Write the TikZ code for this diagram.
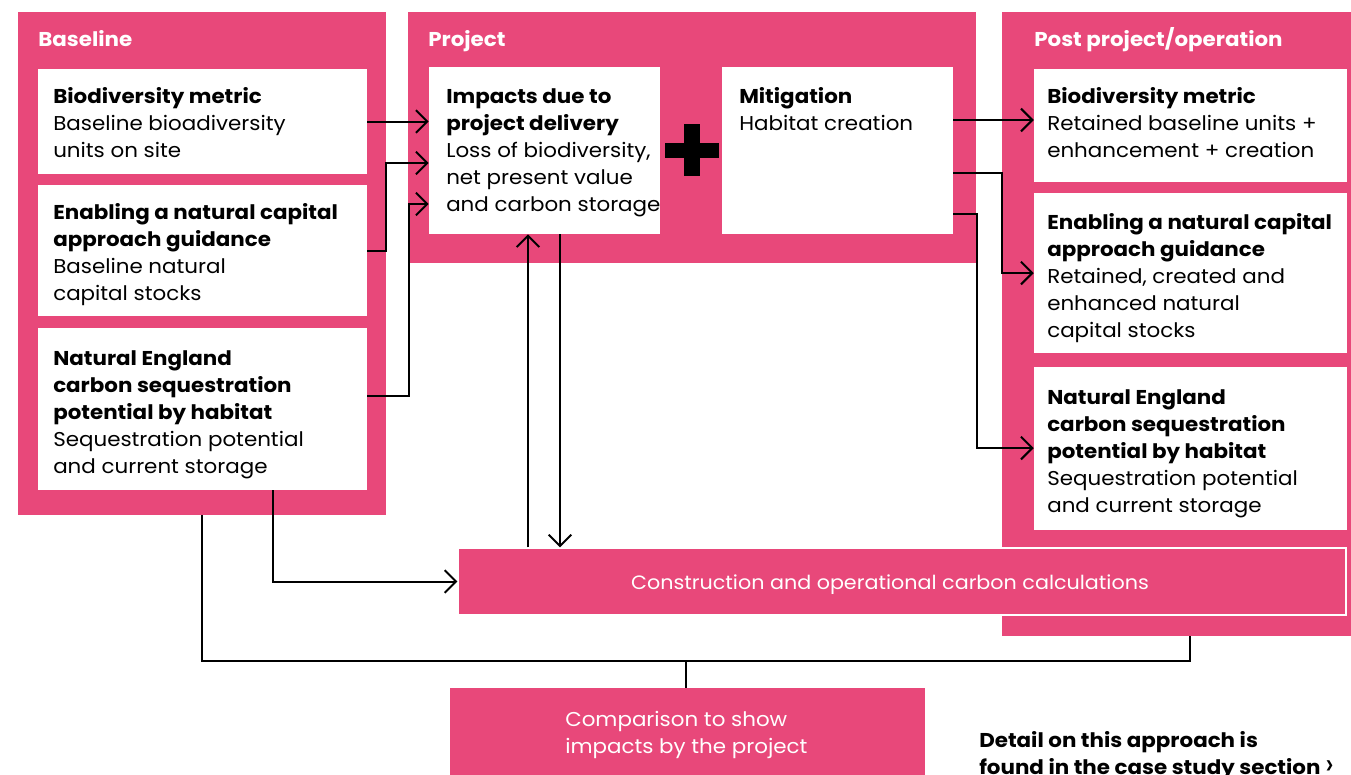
\documentclass[tikz,border=0pt]{standalone}
\usepackage{fontspec}
\setmainfont{Poppins}[FakeStretch=1.07]
\usetikzlibrary{arrows.meta,fit}
\definecolor{pinkc}{HTML}{E8487A}
\begin{document}
\begin{tikzpicture}[x=0.75pt,y=-0.75pt,
  frame/.style={fill=pinkc, inner sep=0pt, draw=none},
  card/.style={fill=white, inner sep=0pt, draw=none},
  txt/.style={anchor=base west, align=left, inner sep=0pt, font=\fontsize{15}{20.25}\selectfont, text=black},
  head/.style={anchor=base west, inner sep=0pt, font=\fontsize{15}{20.25}\selectfont\bfseries, text=white},
  wtxt/.style={align=left, inner sep=0pt, font=\fontsize{15}{20.25}\selectfont, text=white},
  conn/.style={draw=black, line width=1.5pt},
  arr/.style={conn, -{Straight Barb[length=8.5pt,width=17pt,line width=1.5pt]}},
]
\useasboundingbox (0,0) rectangle (1351,774);
% frames
\node[frame, fit={(18,12)(386,515)}] (base) {};
\node[frame, fit={(408,12)(976,263)}] (proj) {};
\node[frame, fit={(1002,12)(1351,636)}] (post) {};
\node[head] (hbase) at (38,46.5) {Baseline};
\node[head] (hproj) at (428,46.5) {Project};
\node[head] (hpost) at (1034,46.5) {Post project/operation};
% baseline cards
\node[card, fit={(38,69)(367,174)}] (b1) {};
\node[card, fit={(38,185)(367,316)}] (b2) {};
\node[card, fit={(38,328)(367,490)}] (b3) {};
\node[txt] (tb1) at (53,157) {\textbf{Biodiversity metric}\\Baseline bioadiversity\\units on site};
\node[txt] (tb2) at (53,300) {\textbf{Enabling a natural capital}\\\textbf{approach guidance}\\Baseline natural\\capital stocks};
\node[txt] (tb3) at (53,473) {\textbf{Natural England}\\\textbf{carbon sequestration}\\\textbf{potential by habitat}\\Sequestration potential\\and current storage};
% project cards
\node[card, fit={(429,67)(660,234)}] (imp) {};
\node[card, fit={(722,67)(953,234)}] (mit) {};
\node[txt] (timp) at (446,211) {\textbf{Impacts due to}\\\textbf{project delivery}\\Loss of biodiversity,\\net present value\\and carbon storage};
\node[txt] (tmit) at (739,130) {\textbf{Mitigation}\\Habitat creation};
\fill[black] (665,143) rectangle (719,158);
\fill[black] (684,124) rectangle (700,176);
% post cards
\node[card, fit={(1034,69)(1347,182)}] (p1) {};
\node[card, fit={(1034,193)(1347,353)}] (p2) {};
\node[card, fit={(1034,367)(1347,530)}] (p3) {};
\node[txt] (tp1) at (1047,157) {\textbf{Biodiversity metric}\\Retained baseline units +\\enhancement + creation};
\node[txt] (tp2) at (1047,337) {\textbf{Enabling a natural capital}\\\textbf{approach guidance}\\Retained, created and\\enhanced natural\\capital stocks};
\node[txt] (tp3) at (1047,512) {\textbf{Natural England}\\\textbf{carbon sequestration}\\\textbf{potential by habitat}\\Sequestration potential\\and current storage};
% construction and comparison
\node[frame, draw=white, line width=0.8pt, fit={(458,548)(1346,615)}] (cons) {};
\node[wtxt, anchor=base, font=\fontsize{14.5}{20.25}\selectfont] (tcons) at (890,589) {Construction and operational carbon calculations};
\node[frame, fit={(450,688)(925,800)}] (comp) {};
\node[wtxt, anchor=base west] (tcomp) at (565,753) {Comparison to show\\impacts by the project};
\node[txt, font=\fontsize{15}{20.25}\selectfont\bfseries] (detail) at (979,774) {Detail on this approach is\\found in the case study section {\mdseries\fontsize{22}{20}\selectfont\symbol{"203A}}};
% connectors
\draw[arr] (b1.east) -- (imp.west |- b1.east);
\draw[arr] (b2.east) -| (386,163) -- (imp.west |- 0,163);
\draw[arr] (b3.east |- 0,396) -| (409,204) -- (imp.west |- 0,204);
\draw[arr] (528,0 |- cons.north) -- (528,0 |- imp.south);
\draw[arr] (560,0 |- imp.south) -- (560,0 |- cons.north);
\draw[arr] (273,0 |- b3.south) |- (cons.west);
\coordinate (j) at (686,661);
\draw[conn] (202,0 |- base.south) -- (202,661) -| (1190,0 |- post.south);
\draw[conn] (j) -- (686,0 |- comp.north);
\draw[arr] (mit.east |- 0,120) -- (p1.west |- 0,120);
\draw[arr] (mit.east |- 0,173) -| (1002,273) -- (p2.west |- 0,273);
\draw[arr] (mit.east |- 0,214) -| (977,448) -- (p3.west |- 0,448);
\end{tikzpicture}
\end{document}
